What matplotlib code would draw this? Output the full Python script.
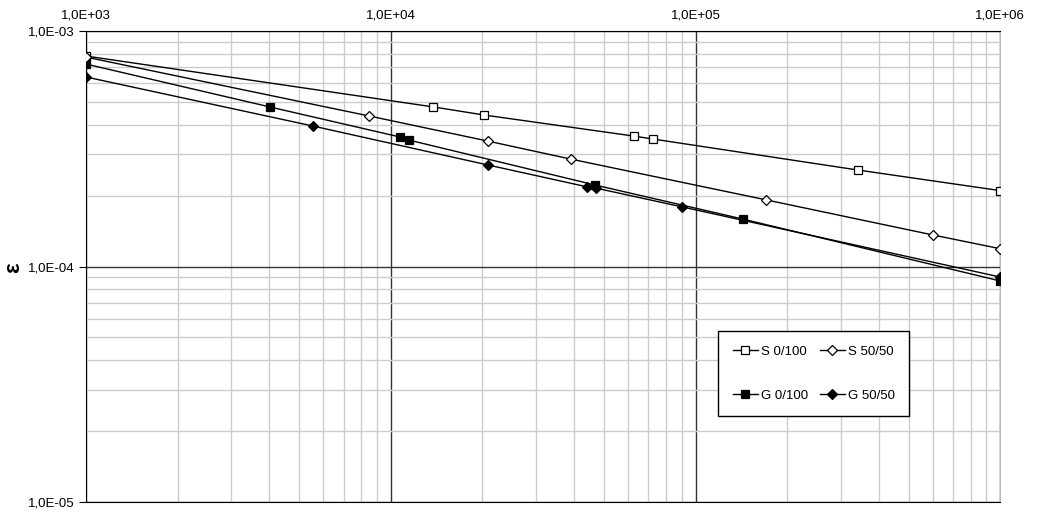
import numpy as np
import matplotlib
matplotlib.use("Agg")
import matplotlib.pyplot as plt
from matplotlib.ticker import LogLocator, FuncFormatter, NullFormatter

plt.rcParams['font.family'] = ['Liberation Sans', 'DejaVu Sans']

# ==========================
# DATOS
# ==========================
x_s0 = [1.0e3, 1.38e4, 2.02e4, 6.27e4, 7.23e4, 3.40e5, 1.0e6]
y_s0 = [7.83e-4, 4.76e-4, 4.40e-4, 3.58e-4, 3.48e-4, 2.57e-4, 2.10e-4]

x_s50 = [1.0e3, 8.47e3, 2.08e4, 3.89e4, 1.70e5, 6.03e5, 1.0e6]
y_s50 = [7.75e-4, 4.36e-4, 3.41e-4, 2.86e-4, 1.92e-4, 1.36e-4, 1.19e-4]

x_g0 = [1.0e3, 4.01e3, 1.07e4, 1.15e4, 4.67e4, 1.43e5, 1.0e6]
y_g0 = [7.24e-4, 4.76e-4, 3.55e-4, 3.44e-4, 2.22e-4, 1.59e-4, 8.68e-5]

x_g50 = [1.0e3, 5.55e3, 2.08e4, 4.40e4, 4.73e4, 9.06e4, 1.0e6]
y_g50 = [6.38e-4, 3.95e-4, 2.70e-4, 2.18e-4, 2.15e-4, 1.79e-4, 9.02e-5]

# orden pensado para que la leyenda de 2 columnas quede S arriba, G abajo
series = [
    ("S 0/100", x_s0, y_s0, "s", "white"),
    ("G 0/100", x_g0, y_g0, "s", "black"),
    ("S 50/50", x_s50, y_s50, "D", "white"),
    ("G 50/50", x_g50, y_g50, "D", "black"),
]

fig = plt.figure(figsize=(10.42, 5.15), dpi=100)
ax = fig.add_axes([0.0825, 0.0252, 0.8775, 0.9146])

for nombre, xs, ys, mk, fc in series:
    ms = 6 if mk == "s" else 5
    ax.plot(xs, ys, color="black", lw=1, marker=mk, ms=ms,
            mfc=fc, mec="black", mew=0.9, label=nombre, zorder=3)

ax.set_xscale("log")
ax.set_yscale("log")
ax.set_xlim(1e3, 1e6)
ax.set_ylim(1e-5, 1e-3)

# rejilla: menor gris, mayor oscura
ax.xaxis.set_minor_locator(LogLocator(base=10, subs=np.arange(2, 10)))
ax.yaxis.set_minor_locator(LogLocator(base=10, subs=np.arange(2, 10)))
ax.xaxis.set_minor_formatter(NullFormatter())
ax.yaxis.set_minor_formatter(NullFormatter())
ax.grid(True, which="minor", color="#cccccc", lw=1)
ax.grid(True, which="major", color="#333333", lw=1)
ax.set_axisbelow(True)

fmt = FuncFormatter(lambda v, p: f"{v:.1E}".replace(".", ","))
ax.xaxis.set_major_formatter(fmt)
ax.yaxis.set_major_formatter(fmt)

ax.xaxis.tick_top()
ax.tick_params(axis="x", which="both", length=0, labelsize=9.5, pad=7)
ax.tick_params(axis="y", which="major", length=5, labelsize=9.5, pad=3)
ax.tick_params(axis="y", which="minor", length=0)

for lado in ["left", "top", "bottom"]:
    ax.spines[lado].set_color("black")
ax.spines["right"].set_color("#bbbbbb")

fig.text(0.013, 0.48, "ε", fontsize=16, fontweight="bold",
         rotation=90, ha="center", va="center")

leg = ax.legend(ncol=2, loc="upper left", bbox_to_anchor=(0.6916, 0.3631),
                fontsize=9.5, frameon=True, fancybox=False, edgecolor="black",
                framealpha=1, labelspacing=2.4, handlelength=1.9,
                columnspacing=0.85, handletextpad=0.25, borderpad=1.1,
                borderaxespad=0)
leg.get_frame().set_linewidth(1)

fig.savefig("out.png", dpi=100)
